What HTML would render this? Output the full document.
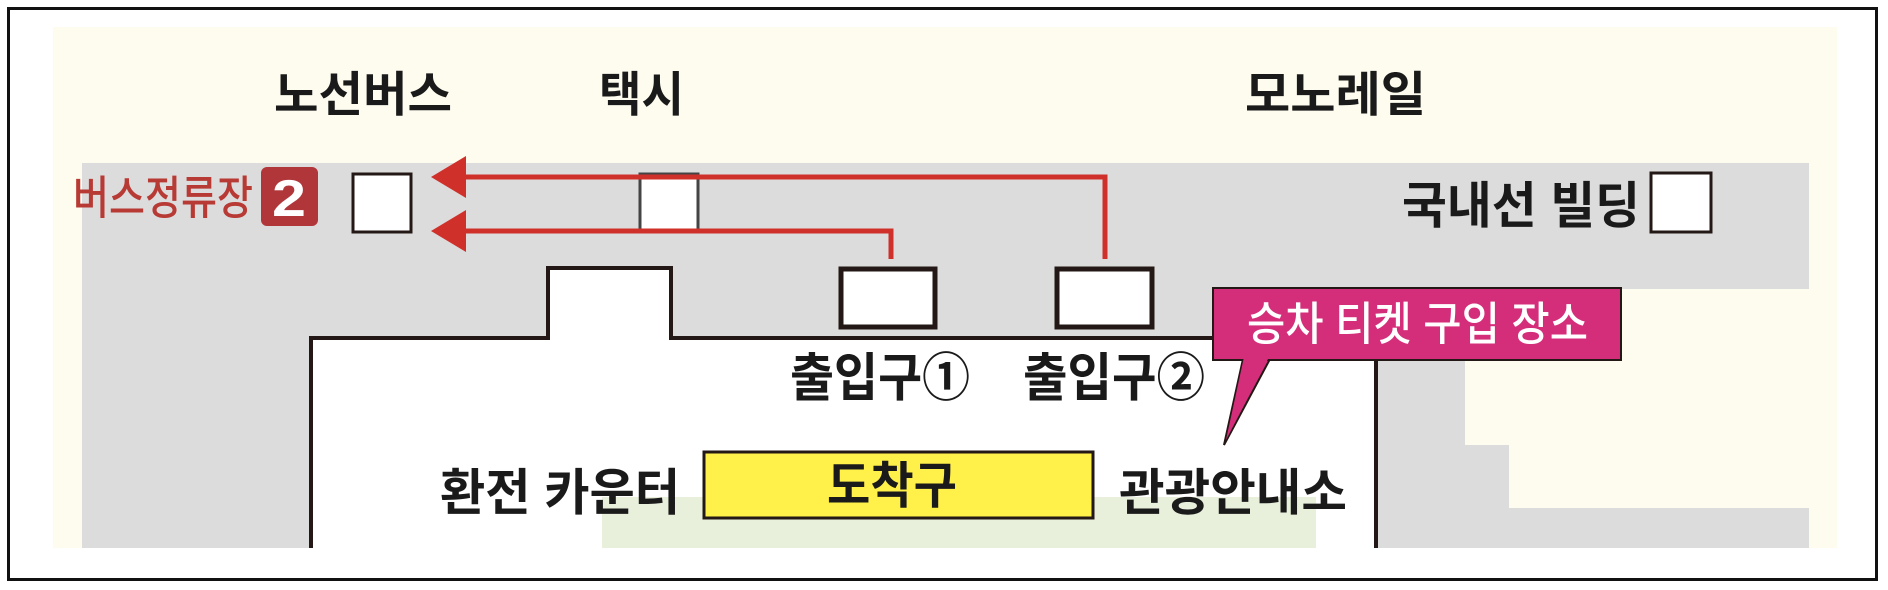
<!DOCTYPE html>
<html><head><meta charset="utf-8"><style>
html,body{margin:0;padding:0;background:#fff;}
svg{display:block;}
text{font-family:"Liberation Sans","Noto Sans CJK KR",sans-serif;font-weight:700;fill:#1a1a1a;}
</style></head><body>
<svg width="1888" height="590" viewBox="0 0 1888 590" xmlns="http://www.w3.org/2000/svg">
<rect x="0" y="0" width="1888" height="590" fill="#fff"/>
<rect x="8.5" y="8.5" width="1868" height="571" fill="#fff" stroke="#111" stroke-width="3"/>
<!-- cream -->
<rect x="53" y="27" width="1784" height="521" fill="#fefcef"/>
<!-- gray band -->
<rect x="82" y="163" width="1727" height="126" fill="#dcdcdc"/>
<rect x="82" y="163" width="229" height="385" fill="#dcdcdc"/>
<rect x="311" y="163" width="1154" height="385" fill="#dcdcdc"/>
<rect x="1465" y="445" width="44" height="103" fill="#dcdcdc"/>
<rect x="1509" y="508" width="300" height="40" fill="#dcdcdc"/>
<!-- building -->
<path d="M311 548 V338 H548 V268 H671 V338 H1376 V548 Z" fill="#fff"/>
<rect x="602" y="497" width="714" height="51" fill="#e8f0dc"/>
<path d="M311 548 V338 H548 V268 H671 V338 H1376 V548" fill="none" stroke="#231815" stroke-width="4"/>
<!-- boxes -->
<rect x="353" y="174" width="58" height="58" fill="#fff" stroke="#231815" stroke-width="3"/>
<rect x="640" y="174" width="58" height="58" fill="#fff" stroke="#444" stroke-width="3"/>
<rect x="1651" y="173" width="60" height="59" fill="#fff" stroke="#231815" stroke-width="3"/>
<rect x="841" y="269" width="94" height="58" fill="#fff" stroke="#231815" stroke-width="5"/>
<rect x="1057" y="269" width="95" height="58" fill="#fff" stroke="#231815" stroke-width="5"/>
<!-- red arrows -->
<path d="M460 177 H1105 V259" fill="none" stroke="#d0302a" stroke-width="5"/>
<path d="M460 231 H891 V259" fill="none" stroke="#d0302a" stroke-width="5"/>
<polygon points="431,177 466,156 466,198" fill="#d0302a"/>
<polygon points="431,231 466,210 466,252" fill="#d0302a"/>
<!-- yellow -->
<rect x="704" y="452" width="389" height="66" fill="#fff04a" stroke="#231815" stroke-width="3"/>
<!-- callout -->
<polygon points="1243,359 1270,359 1224,445" fill="#d42e7b" stroke="#231815" stroke-width="2"/>
<rect x="1213" y="288" width="408" height="72" fill="#d42e7b" stroke="#231815" stroke-width="2"/>
<polygon points="1244,357 1269,357 1226,440" fill="#d42e7b"/>
<!-- badge -->
<rect x="261" y="167" width="57" height="59" rx="6" fill="#b0363a"/>
<text x="289" y="216" font-size="52" text-anchor="middle" style="fill:#fff" textLength="34" lengthAdjust="spacingAndGlyphs">2</text>
<!-- labels -->
<text x="274" y="111" font-size="48" textLength="178" lengthAdjust="spacingAndGlyphs">노선버스</text>
<text x="599" y="111" font-size="48" textLength="85" lengthAdjust="spacingAndGlyphs">택시</text>
<text x="1245" y="111" font-size="48" textLength="181" lengthAdjust="spacingAndGlyphs">모노레일</text>
<text x="73" y="214" font-size="46" textLength="180" lengthAdjust="spacingAndGlyphs" style="fill:#b83a34;font-weight:500">버스정류장</text>
<text x="1402" y="223" font-size="50" textLength="238" lengthAdjust="spacingAndGlyphs">국내선 빌딩</text>
<text x="790" y="396" font-size="52" textLength="180" lengthAdjust="spacingAndGlyphs">출입구①</text>
<text x="1023" y="396" font-size="52" textLength="182" lengthAdjust="spacingAndGlyphs">출입구②</text>
<text x="440" y="510" font-size="50" textLength="240" lengthAdjust="spacingAndGlyphs">환전 카운터</text>
<text x="827" y="503" font-size="50" textLength="130" lengthAdjust="spacingAndGlyphs">도착구</text>
<text x="1119" y="510" font-size="50" textLength="228" lengthAdjust="spacingAndGlyphs">관광안내소</text>
<text x="1247" y="340" font-size="46" textLength="341" lengthAdjust="spacingAndGlyphs" style="fill:#fff;font-weight:500">승차 티켓 구입 장소</text>
</svg>
</body></html>
